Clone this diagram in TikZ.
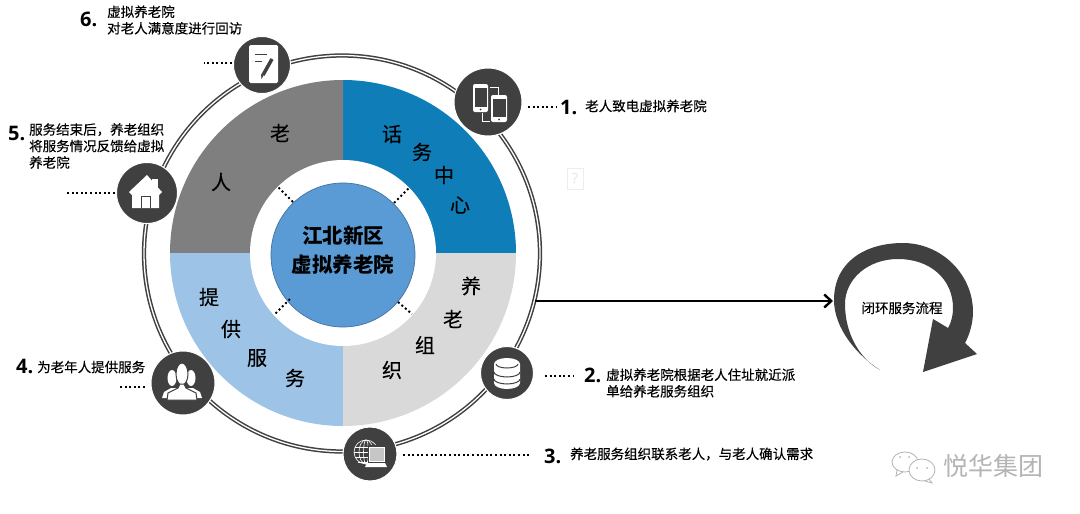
\documentclass[tikz,border=0pt]{standalone}
\usepackage{fontspec}
\usepackage{tikz}
\usetikzlibrary{arrows.meta}
\setmainfont{Noto Sans CJK SC}
\newfontfamily\numfont{Open Sans}
\newfontfamily\labelfont[FakeBold=0.3]{Noto Sans CJK SC}
\definecolor{icondark}{HTML}{404040}
\definecolor{segblue}{HTML}{0F7EB8}
\definecolor{seggray}{HTML}{7F7F7F}
\definecolor{seglight}{HTML}{9DC3E6}
\definecolor{segpale}{HTML}{D9D9D9}
\definecolor{hubblue}{HTML}{5B9BD5}
\definecolor{hubline}{HTML}{41719C}
\definecolor{markgray}{HTML}{B4B4B4}
\tikzset{
  icon/.style={circle, fill=icondark, draw=white, line width=1pt, inner sep=0pt},
  stepnum/.style={inner sep=0pt, anchor=west, font=\numfont\bfseries\fontsize{20}{20}\selectfont},
  steptxt/.style={inner sep=0pt, anchor=west, align=left, font=\labelfont\fontsize{13.5}{16.5}\selectfont},
  segchar/.style={inner sep=0pt, font=\labelfont\fontsize{20}{20}\selectfont},
  dotline/.style={line width=2pt, dash pattern=on 2pt off 2.6pt, black},
  whiteline/.style={draw=white, line width=1pt},
}
\begin{document}
\begin{tikzpicture}[x=1pt, y=1pt]
        \useasboundingbox (0,0) rectangle (1080,-514);
        \fill[white] (0,0) rectangle (1080,-514);

        \coordinate (ctr) at (343,-253);
        \coordinate (ringctr) at (342,-253.5);
        \draw[icondark, line width=1.5pt, double=white, double distance=1.3pt] (ringctr) circle (198);

        \fill[segblue] (ctr) -- ++(0:173) arc (0:90:173) -- cycle;
        \fill[seggray] (ctr) -- ++(90:173) arc (90:180:173) -- cycle;
        \fill[seglight] (ctr) -- ++(180:173) arc (180:270:173) -- cycle;
        \fill[segpale] (ctr) -- ++(270:173) arc (270:360:173) -- cycle;
        \fill[white] (ctr) circle (93);

        \node[circle, fill=hubblue, draw=hubline, line width=0.7pt, minimum size=144pt, inner sep=0pt] (hub) at (343,-255) {};
        \node[inner sep=0pt, align=center, font=\bfseries\fontsize{20.5}{29}\selectfont] (hubtxt) at (343,-250) {江北新区\\虚拟养老院};

        \coordinate (spokeA1) at (394,-203); \coordinate (spokeA2) at (410,-187);
        \coordinate (spokeB1) at (293,-202); \coordinate (spokeB2) at (277,-186);
        \coordinate (spokeC1) at (290,-299); \coordinate (spokeC2) at (274,-315);
        \coordinate (spokeD1) at (398,-302); \coordinate (spokeD2) at (412,-314);
        \draw[dotline] (spokeA1) -- (spokeA2);
        \draw[dotline] (spokeB1) -- (spokeB2);
        \draw[dotline] (spokeC1) -- (spokeC2);
        \draw[dotline] (spokeD1) -- (spokeD2);

        \node[segchar] (segA1) at (392,-134) {话};
        \node[segchar] (segA2) at (422,-152) {务};
        \node[segchar] (segA3) at (444,-175) {中};
        \node[segchar] (segA4) at (460,-205) {心};
        \node[segchar] (segB1) at (280,-133) {老};
        \node[segchar] (segB2) at (221,-182) {人};
        \node[segchar] (segC1) at (209,-297) {提};
        \node[segchar] (segC2) at (231,-329) {供};
        \node[segchar] (segC3) at (257,-358) {服};
        \node[segchar] (segC4) at (295,-378) {务};
        \node[segchar] (segD1) at (471,-286) {养};
        \node[segchar] (segD2) at (453,-319) {老};
        \node[segchar] (segD3) at (425,-345) {组};
        \node[segchar] (segD4) at (392,-370) {织};

        \node[icon, minimum size=68pt] (phones) at (488,-102) {};
        \node[icon, minimum size=53pt] (dbase) at (507,-373) {};
        \node[icon, minimum size=54pt] (globe) at (370,-454) {};
        \node[icon, minimum size=64pt] (people) at (183,-383) {};
        \node[icon, minimum size=61pt] (house) at (147,-193) {};
        \node[icon, minimum size=57pt] (note) at (262,-65) {};

        \begin{scope}[shift={(phones)}]
            \fill[white, rounded corners=2pt] (-15,18) rectangle (0,-10);
            \fill[icondark] (-13.5,14) rectangle (-1.5,-5);
            \fill[icondark] (-7.5,-7.5) circle (1);
            \fill[white, rounded corners=2pt] (3,7) rectangle (19,-20);
            \fill[icondark] (4.5,3) rectangle (17.5,-15);
            \fill[icondark] (11,-17.5) circle (1);
            \draw[whiteline] (2,15) -- (10,15) -- (10,7);
            \draw[whiteline] (-6,-11) -- (-6,-19) -- (2,-19);
        \end{scope}

        \begin{scope}[shift={(dbase)}]
            \fill[white] (-13,9) arc (180:0:13 and 6) -- (13,-10) arc (0:-180:13 and 6) -- cycle;
            \draw[icondark, line width=1pt] (-11,9) arc (180:360:11 and 4);
            \draw[icondark, line width=1pt] (-13,1) arc (180:360:13 and 5);
            \draw[icondark, line width=1pt] (-13,-6) arc (180:360:13 and 5);
        \end{scope}

        \begin{scope}[shift={(globe)}]
            \draw[white, line width=0.6pt] (-4,2) circle (12);
            \draw[white, line width=0.6pt] (-4,2) ellipse (7 and 12);
            \draw[white, line width=0.6pt] (-4,2) ellipse (2.5 and 12);
            \draw[white, line width=0.6pt] (-15,7) -- (7,7);
            \draw[white, line width=0.6pt] (-16,2) -- (8,2);
            \draw[white, line width=0.6pt] (-15,-3) -- (7,-3);
            \draw[white, line width=0.6pt] (-12,-8) -- (4,-8);
            \fill[icondark] (-2,9) rectangle (16,-10);
            \fill[gray!45, draw=white, line width=0.7pt] (-1,7) rectangle (14,-7);
            \fill[white] (-3,-9) -- (15,-9) -- (17,-13) -- (-5,-13) -- cycle;
        \end{scope}

        \begin{scope}[shift={(people)}]
            \fill[white] (-11,5) ellipse (4.5 and 8);
            \fill[white] (8,5) ellipse (4.5 and 8);
            \fill[white] (-21,-15) -- (-19,-9) -- (-12,-5) -- (-6,-5) -- (-6,-15) -- cycle;
            \fill[white] (19,-15) -- (17,-9) -- (10,-5) -- (4,-5) -- (4,-15) -- cycle;
            \fill[white, draw=icondark, line width=1pt] (-1,9) ellipse (6 and 11);
            \fill[white, draw=icondark, line width=1pt] (-16,-17) -- (-15,-10) -- (-5,-5) -- (-3,-1) -- (1,-1) -- (3,-5) -- (13,-10) -- (14,-17) -- cycle;
        \end{scope}

        \begin{scope}[shift={(house)}]
            \fill[white] (5,14) rectangle (11,5);
            \fill[white] (-18,1) -- (0,18) -- (15,1) -- (12,-2) -- (12,-15) -- (-15,-15) -- (-15,-2) -- cycle;
            \draw[icondark, line width=1pt, fill=white] (-6,-15) -- (-6,-3) -- (3,-3) -- (3,-15);
        \end{scope}

        \begin{scope}[shift={(note)}]
            \fill[white, rounded corners=1.5pt] (-13,20) rectangle (16,-18);
            \draw[icondark, line width=1pt] (-7,11) -- (5,11);
            \draw[icondark, line width=1pt] (-7,4) -- (0,4);
            \draw[icondark, line width=3.5pt] (1,-10) -- (10,6);
            \fill[icondark] (1.5,-10.5) -- (-0.5,-14) -- (-1,-9) -- cycle;
        \end{scope}

        \coordinate (dotA1) at (528,-107); \coordinate (dotA2) at (556,-107);
        \coordinate (dotB1) at (545,-376); \coordinate (dotB2) at (573,-376);
        \coordinate (dotC1) at (403,-455); \coordinate (dotC2) at (531,-455);
        \coordinate (dotD1) at (145,-387); \coordinate (dotD2) at (118,-387);
        \coordinate (dotE1) at (115,-193); \coordinate (dotE2) at (67,-193);
        \coordinate (dotF1) at (232,-63);  \coordinate (dotF2) at (204,-63);
        \draw[dotline] (dotA1) -- (dotA2);
        \draw[dotline] (dotB1) -- (dotB2);
        \draw[dotline] (dotC1) -- (dotC2);
        \draw[dotline] (dotD1) -- (dotD2);
        \draw[dotline] (dotE1) -- (dotE2);
        \draw[dotline] (dotF1) -- (dotF2);

        \node[stepnum] (numA) at (560,-107) {1.};
        \node[steptxt] (txtA) at (585,-106) {老人致电虚拟养老院};
        \node[stepnum] (numB) at (584,-375) {2.};
        \node[steptxt] (txtB) at (606,-383) {虚拟养老院根据老人住址就近派\\单给养老服务组织};
        \node[stepnum] (numC) at (544,-456) {3.};
        \node[steptxt] (txtC) at (570,-454) {养老服务组织联系老人，与老人确认需求};
        \node[stepnum] (numD) at (16,-366) {4.};
        \node[steptxt] (txtD) at (37,-367) {为老年人提供服务};
        \node[stepnum] (numE) at (8,-133) {5.};
        \node[steptxt] (txtE) at (29,-146) {服务结束后，养老组织\\将服务情况反馈给虚拟\\养老院};
        \node[stepnum] (numF) at (80,-19) {6.};
        \node[steptxt] (txtF) at (107,-20) {虚拟养老院\\对老人满意度进行回访};

        \coordinate (flowout) at (535,-301);
        \coordinate (flowin) at (833,-301);
        \draw[line width=2.4pt, -{Straight Barb[length=7pt, width=13pt]}] (flowout) -- (flowin);

        \fill[icondark] (880,-370) .. controls (858,-356) and (834,-329) .. (834,-300)
            .. controls (834,-262) and (865,-243) .. (903,-243)
            .. controls (941,-243) and (973,-274) .. (973,-312)
            .. controls (973,-322) and (970,-334) .. (965,-343)
            -- (977,-354) -- (923,-372) -- (933,-319) -- (948,-328)
            .. controls (952,-321) and (953,-314) .. (953,-308)
            .. controls (953,-279) and (930,-259) .. (898,-259)
            .. controls (868,-259) and (845,-279) .. (845,-304)
            .. controls (845,-334) and (860,-359) .. (880,-370) -- cycle;
        \node[inner sep=0pt, font=\labelfont\fontsize{13.5}{16}\selectfont] (looptxt) at (902,-308) {闭环服务流程};

        \draw[markgray, line width=0.8pt, fill=white] (905,-462) ellipse (13 and 10);
        \draw[markgray, line width=0.8pt] (897,-470) -- (896,-476) -- (903,-472);
        \draw[markgray, line width=0.8pt, fill=white] (922,-470) ellipse (13 and 11);
        \draw[markgray, line width=0.8pt] (929,-479) -- (932,-483) -- (925,-481);
        \fill[markgray] (900,-457) circle (1) (909,-457) circle (1) (917,-468) circle (1) (927,-468) circle (1);
        \node[inner sep=0pt, anchor=west, text=markgray, font=\fontsize{25}{25}\selectfont] (marktxt) at (943,-466) {悦华集团};

        \draw[black!7, line width=0.8pt] (567,-168) rectangle (583,-189);
        \node[inner sep=0pt, text=black!10, font=\numfont\fontsize{14}{14}\selectfont] (brokenmark) at (575,-179) {?};
    \end{tikzpicture}
\end{document}
